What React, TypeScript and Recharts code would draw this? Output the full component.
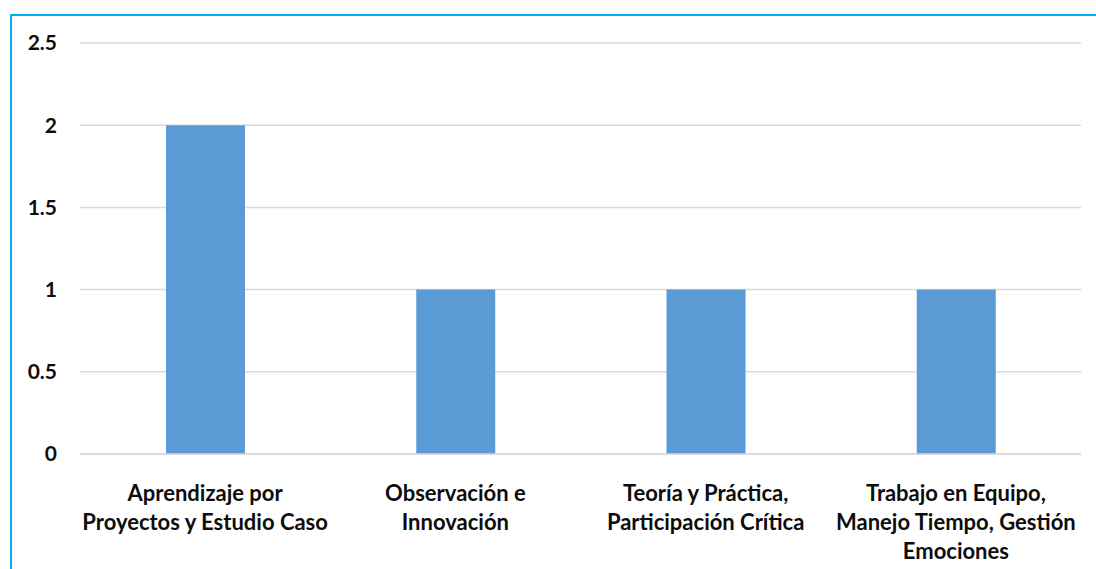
import React from "react";
import { BarChart, Bar, XAxis, YAxis, CartesianGrid } from "recharts";

const categories = [
  "Aprendizaje por Proyectos y Estudio Caso",
  "Observación e Innovación",
  "Teoría y Práctica, Participación Crítica",
  "Trabajo en Equipo, Manejo Tiempo, Gestión Emociones",
];

// how each category label breaks in the picture
const labelLines = [
  ["Aprendizaje por", "Proyectos y Estudio Caso"],
  ["Observación e", "Innovación"],
  ["Teoría y Práctica,", "Participación Crítica"],
  ["Trabajo en Equipo,", "Manejo Tiempo, Gestión", "Emociones"],
];

const values = [2, 1, 1, 1];
const yTicks = [0, 0.5, 1, 1.5, 2, 2.5];

const data = categories.map((name, i) => ({ name, value: values[i] }));

const FONT = "Lato, 'Noto Sans', sans-serif";

function CategoryTick(props: any) {
  const { x, y, index } = props;
  const lines = labelLines[index] || [];
  return (
    <g transform={`translate(${x},${y})`}>
      {lines.map((line, i) => (
        <text
          key={i}
          x={0}
          y={39 + i * 29}
          textAnchor="middle"
          fontFamily={FONT}
          fontWeight={700}
          fontSize={22}
          fill="#0d0d0d"
        >
          {line}
        </text>
      ))}
    </g>
  );
}

export default function App() {
  return (
    <div style={{ position: "absolute", left: 0, top: 0, width: 1096, height: 569, overflow: "hidden", background: "#fff" }}>
      <div
        style={{
          position: "absolute",
          left: 10,
          top: 14,
          width: 1100,
          height: 570,
          borderTop: "2px solid #00b0f0",
          borderLeft: "2px solid #00b0f0",
          boxSizing: "border-box",
        }}
      />
      <div style={{ position: "absolute", left: 0, top: 0 }}>
        <BarChart
          width={1096}
          height={569}
          data={data}
          margin={{ top: 43, right: 15, left: 20, bottom: 15 }}
        >
          <CartesianGrid vertical={false} stroke="#d9d9d9" strokeWidth={1.5} />
          <XAxis
            dataKey="name"
            axisLine={{ stroke: "#d9d9d9", strokeWidth: 1.5 }}
            tickLine={false}
            height={100}
            interval={0}
            tick={<CategoryTick />}
          />
          <YAxis
            width={60}
            domain={[0, 2.5]}
            ticks={yTicks}
            axisLine={false}
            tickLine={false}
            tickSize={0}
            tickMargin={23}
            tick={{ fontFamily: FONT, fontWeight: 700, fontSize: 21, fill: "#0d0d0d" }}
          />
          <Bar dataKey="value" fill="#5b9bd5" barSize={79} isAnimationActive={false} />
        </BarChart>
      </div>
    </div>
  );
}
